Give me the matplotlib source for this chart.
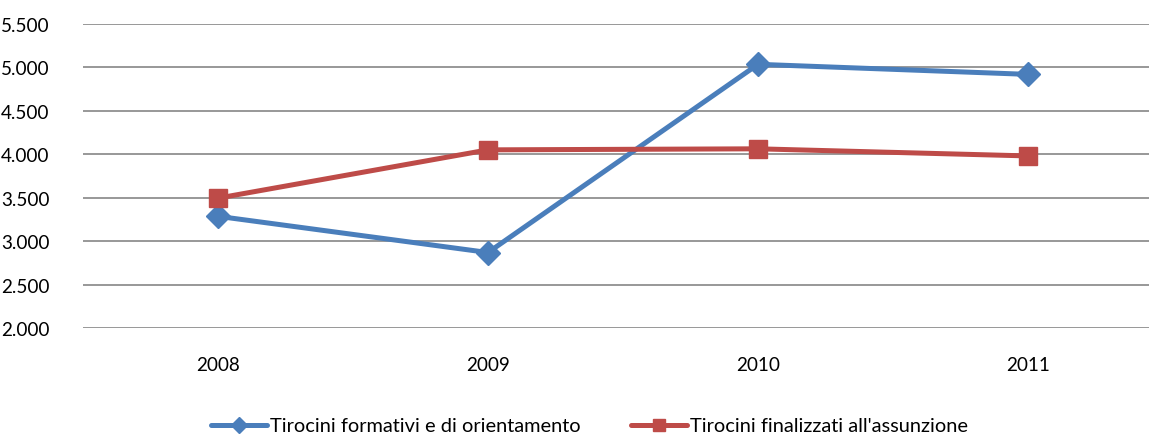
import matplotlib.pyplot as plt

years = ["2008", "2009", "2010", "2011"]
formativi = [3286, 2869, 5036, 4920]
finalizzati = [3495, 4051, 4063, 3981]
label_formativi = "Tirocini formativi e di orientamento"
label_finalizzati = "Tirocini finalizzati all'assunzione"
yticks = [2000, 2500, 3000, 3500, 4000, 4500, 5000, 5500]

plt.rcParams['font.family'] = ['Lato', 'DejaVu Sans']

fig = plt.figure(figsize=(11.49, 4.35), dpi=100)
ax = fig.add_axes([83 / 1149, 1 - 329 / 435, 1080 / 1149, 304 / 435])

x = list(range(len(years)))
ax.plot(x, formativi, color='#4A7EBB', lw=3.6, marker='D', ms=12,
        label=label_formativi, solid_capstyle='round')
ax.plot(x, finalizzati, color='#BE4B48', lw=3.6, marker='s', ms=13,
        label=label_finalizzati, solid_capstyle='round')

ax.set_xlim(-0.5, 3.5)
ax.set_ylim(2000, 5500)
ax.set_yticks(yticks)
ax.set_yticklabels([f"{v:,}".replace(",", ".") for v in yticks])
ax.set_xticks(x)
ax.set_xticklabels(years)
ax.yaxis.grid(True, color='#868686', lw=1.2)
ax.set_axisbelow(True)
for s in ax.spines.values():
    s.set_visible(False)
ax.tick_params(length=0, labelsize=13.6, colors='black')
ax.tick_params(axis='x', pad=20)
ax.tick_params(axis='y', pad=24)

leg = fig.legend(loc='center', bbox_to_anchor=(0.5 + 15 / 1149, 1 - 427 / 435), ncol=2,
                 frameon=False, fontsize=14.4, handlelength=2.8,
                 handletextpad=0.15, columnspacing=2.5, markerscale=0.7)

fig.savefig('out.png', dpi=100)
